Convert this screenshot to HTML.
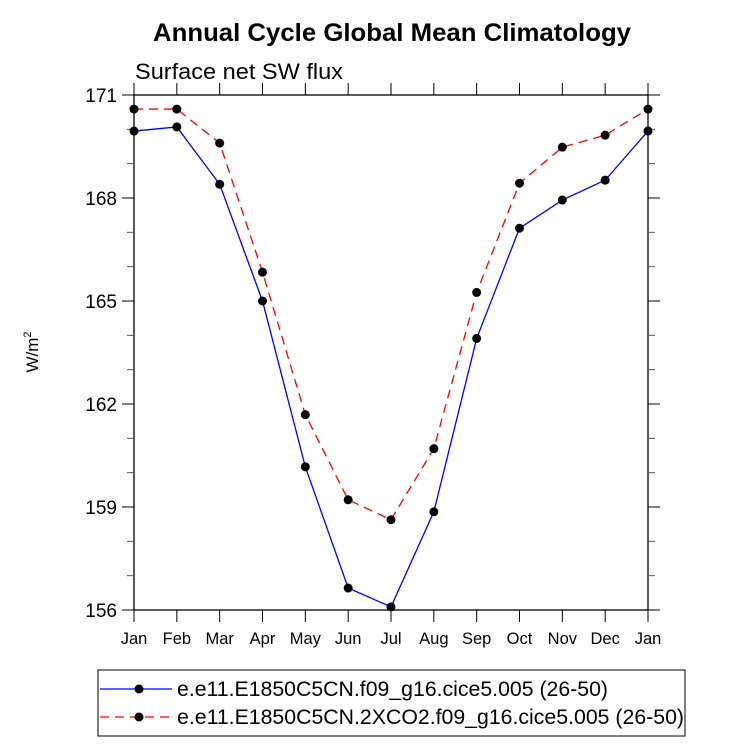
<!DOCTYPE html>
<html><head><meta charset="utf-8"><style>
html,body{margin:0;padding:0;background:#fff;}
svg{display:block;font-family:"Liberation Sans",Arial,sans-serif;}
</style></head><body>
<svg id="chart" width="733" height="744" xmlns="http://www.w3.org/2000/svg">
<text x="392" y="41" text-anchor="middle" font-size="25" font-weight="bold" textLength="478" lengthAdjust="spacingAndGlyphs">Annual Cycle Global Mean Climatology</text>
<text x="135" y="79" font-size="22" textLength="208" lengthAdjust="spacingAndGlyphs">Surface net SW flux</text>
<text transform="translate(38,352) rotate(-90)" text-anchor="middle" font-size="17">W/m<tspan font-size="11" dy="-7">2</tspan></text>
<g id="axes"></g>
<g id="series"></g>
<rect x="98" y="670" width="587" height="66" fill="none" stroke="#000" stroke-width="1"/>
<g>
<line x1="100" y1="689" x2="172" y2="689" stroke="#0000ff" stroke-width="1.3"/>
<circle cx="139" cy="689" r="4.5" fill="#000"/>
<text x="177" y="696" font-size="21" textLength="431" lengthAdjust="spacingAndGlyphs">e.e11.E1850C5CN.f09_g16.cice5.005 (26-50)</text>
</g>
<g>
<line x1="100" y1="717" x2="172" y2="717" stroke="#ff0000" stroke-width="1.3" stroke-dasharray="9,6"/>
<circle cx="139" cy="717" r="4.5" fill="#000"/>
<text x="177" y="724" font-size="21" textLength="507" lengthAdjust="spacingAndGlyphs">e.e11.E1850C5CN.2XCO2.f09_g16.cice5.005 (26-50)</text>
</g>
</svg>
<script>
const months = ["Jan","Feb","Mar","Apr","May","Jun","Jul","Aug","Sep","Oct","Nov","Dec","Jan"];
const controlValues = [169.95,170.07,168.4,165.0,160.17,156.64,156.09,158.86,163.91,167.12,167.94,168.52,169.95];
const co2Values = [170.59,170.59,169.6,165.84,161.69,159.21,158.63,160.7,165.25,168.43,169.48,169.83,170.59];
const yTicks = [156,159,162,165,168,171];
const X0=134,X1=648,Y0=95,Y1=610,YMIN=156,YMAX=171;
const xs=i=>X0+(X1-X0)*i/(months.length-1);
const ys=v=>Y1-(v-YMIN)/(YMAX-YMIN)*(Y1-Y0);
const NS="http://www.w3.org/2000/svg";
const axes=document.getElementById('axes'), series=document.getElementById('series');
function mk(tag,attrs,parent){const e=document.createElementNS(NS,tag);for(const k in attrs)e.setAttribute(k,attrs[k]);parent.appendChild(e);return e;}
const frame=mk('rect',{x:X0,y:Y0,width:X1-X0,height:Y1-Y0,fill:'none',stroke:'#000','stroke-width':1.3},axes);


for(let v=YMIN;v<=YMAX;v++){
  const major=yTicks.includes(v);const L=major?12:7;const y=ys(v);
  mk('line',{x1:X0-L,y1:y,x2:X0,y2:y,stroke:major?'#000':'#555','stroke-width':1},axes);
  mk('line',{x1:X1,y1:y,x2:X1+L,y2:y,stroke:major?'#000':'#555','stroke-width':1},axes);
}
yTicks.forEach(v=>{
  const t=mk('text',{x:X0-17,y:ys(v)+7,'text-anchor':'end','font-size':19},axes);
  t.textContent=v;
  
  
});
months.forEach((m,i)=>{
  const x=xs(i);
  mk('line',{x1:x,y1:Y1,x2:x,y2:Y1+12,stroke:'#000','stroke-width':1},axes);
  mk('line',{x1:x,y1:Y0-12,x2:x,y2:Y0,stroke:'#000','stroke-width':1},axes);
  const t=mk('text',{x:x,y:Y1+34,'text-anchor':'middle','font-size':16.5},axes);
  t.textContent=m;
  
  
});
function drawSeries(vals,color,dash,name){
  const g=mk('g',{},series);
  
  
  const pts=vals.map((v,i)=>xs(i)+','+ys(v)).join(' ');
  const a={points:pts,fill:'none',stroke:color,'stroke-width':1.3};
  if(dash)a['stroke-dasharray']=dash;
  mk('polyline',a,g);
  vals.forEach((v,i)=>{
    const c=mk('circle',{cx:xs(i),cy:ys(v),r:4.5,fill:'#000'},g);
    
    
  });
}
drawSeries(controlValues,'#0000ff',null,'series-control');
drawSeries(co2Values,'#ff0000','9,6','series-2xco2');
</script>
</body></html>
